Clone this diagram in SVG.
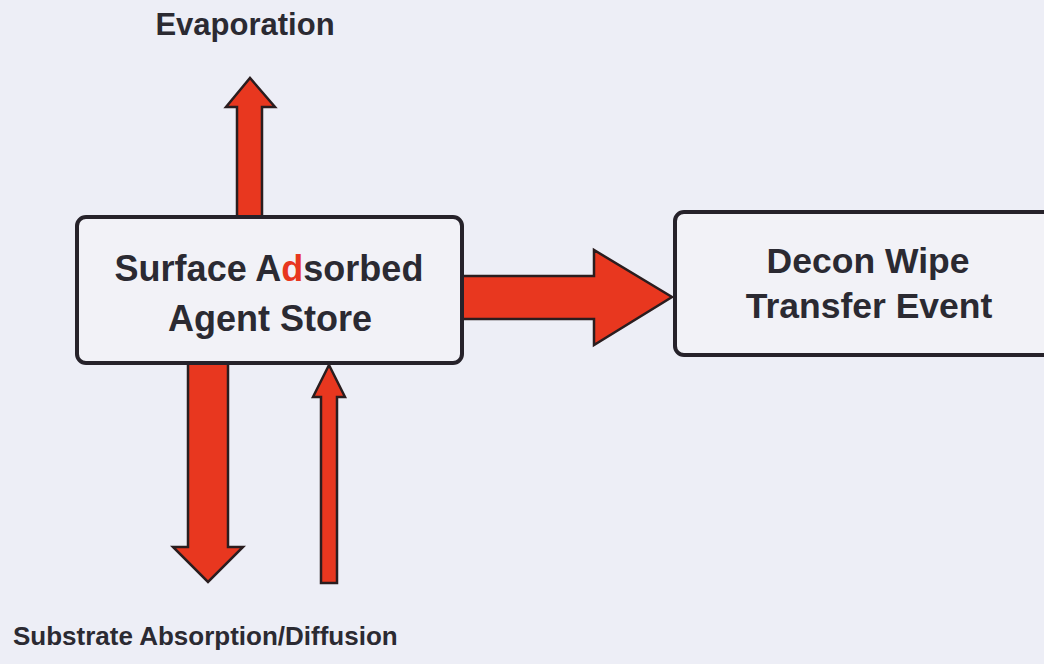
<svg xmlns="http://www.w3.org/2000/svg" width="1044" height="664" viewBox="0 0 1044 664">
<style>
.bg{fill:#EDEEF6}
.box{fill:#F2F2F7;stroke:#26222A;stroke-width:4}
.arrow{fill:#E8371F;stroke:#2A1D1F;stroke-width:2.5;stroke-linejoin:miter}
.t{font-family:"Liberation Sans",Arial,sans-serif;font-weight:bold;fill:#2B2A32;text-anchor:middle}
.red{fill:#E8371F}
</style>
<rect class="bg" x="0" y="0" width="1044" height="664"/>
<g id="connectors">
<path id="evap-arrow" class="arrow" d="M237,217 L237,107 L226,107 L250,78 L275,107 L262,107 L262,217 Z"/>
<path id="wipe-arrow" class="arrow" d="M462,276 L594,276 L594,250 L672,297 L594,345 L594,319 L462,319 Z"/>
<path id="absorb-arrow" class="arrow" d="M188,363 L228,363 L228,547 L243,547 L208,582 L173,547 L188,547 Z"/>
<path id="diffuse-arrow" class="arrow" d="M321,583 L321,397 L313,397 L329,365 L345,397 L337,397 L337,583 Z"/>
</g>
<g id="store">
<rect class="box" x="77" y="217" width="385" height="146" rx="9"/>
<text class="t" x="269" y="281" font-size="36">Surface A<tspan class="red">d</tspan>sorbed</text>
<text class="t" x="270" y="331" font-size="36">Agent Store</text>
</g>
<g id="wipe">
<rect class="box" x="675" y="212" width="380" height="143" rx="9"/>
<text class="t" x="868" y="273" font-size="35.5">Decon Wipe</text>
<text class="t" x="869" y="318" font-size="35.5">Transfer Event</text>
</g>
<g id="evaporation">
<text class="t" x="245" y="35" font-size="31">Evaporation</text>
</g>
<g id="substrate">
<text x="13" y="645" font-size="26" class="t" style="text-anchor:start">Substrate Absorption/Diffusion</text>
</g>
</svg>
